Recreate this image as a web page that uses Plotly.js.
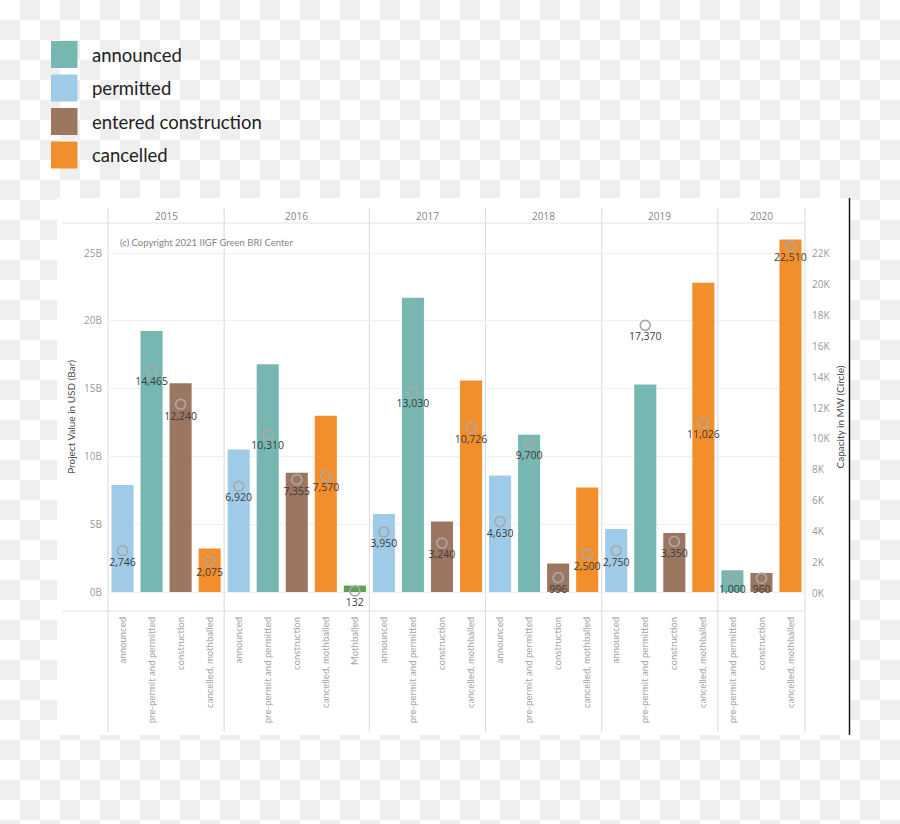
<!DOCTYPE html>
<html>
<head>
<meta charset="utf-8">
<script src="https://cdn.plot.ly/plotly-3.0.1.min.js"></script>
<style>
  html, body { margin: 0; padding: 0; }
  body {
    width: 900px; height: 824px; overflow: hidden;
    background: repeating-conic-gradient(#efefef 0 25%, #ffffff 0 50%) 0 0 / 40px 40px;
  }
  #chart { width: 900px; height: 824px; }
</style>
</head>
<body>
<div id="chart"></div>
<script>
// ---- data ----
const barYear = ['2015','2015','2015','2015',
                 '2016','2016','2016','2016','2016',
                 '2017','2017','2017','2017',
                 '2018','2018','2018','2018',
                 '2019','2019','2019','2019',
                 '2020','2020','2020'];
const barStage = ['announced','pre-permit and permitted','construction','cancelled, mothballed',
                  'announced','pre-permit and permitted','construction','cancelled, mothballed','Mothballed',
                  'announced','pre-permit and permitted','construction','cancelled, mothballed',
                  'announced','pre-permit and permitted','construction','cancelled, mothballed',
                  'announced','pre-permit and permitted','construction','cancelled, mothballed',
                  'pre-permit and permitted','construction','cancelled, mothballed'];
// Project value in USD billions (bars)
const valueB = [7.9, 19.25, 15.4, 3.2,
                10.5, 16.8, 8.8, 13.0, 0.47,
                5.75, 21.7, 5.2, 15.6,
                8.6, 11.6, 2.1, 7.7,
                4.65, 15.3, 4.35, 22.8,
                1.6, 1.4, 26.0];
// Capacity in MW (circles)
const capacityMW = [2746, 14465, 12240, 2075,
                    6920, 10310, 7355, 7570, 132,
                    3950, 13030, 3240, 10726,
                    4630, 9700, 996, 2500,
                    2750, 17370, 3350, 11026,
                    1000, 960, 22510];
const leftTickVals = [0, 5, 10, 15, 20, 25];
const leftTickText = ['0B', '5B', '10B', '15B', '20B', '25B'];
const rightTickVals = [0, 2000, 4000, 6000, 8000, 10000, 12000, 14000, 16000, 18000, 20000, 22000];
const rightTickText = ['0K', '2K', '4K', '6K', '8K', '10K', '12K', '14K', '16K', '18K', '20K', '22K'];
const legendLabels = ['announced', 'permitted', 'entered construction', 'cancelled'];

// ---- styles ----
const stageColor = {
  'announced': '#a0cbe8',
  'pre-permit and permitted': '#76b7b2',
  'construction': '#9c7660',
  'cancelled, mothballed': '#f28e2b',
  'Mothballed': '#59a14f'
};
const legendColors = ['#76b7b2', '#a0cbe8', '#9c7660', '#f28e2b'];
const FONT = 'Open Sans, Lato, sans-serif';
const LATO = 'Lato, sans-serif';

// ---- geometry helpers (plot area 108..805 x 223..611 px) ----
const L = 108, R = 805, T = 223, B = 611;
const px = X => (X - L) / (R - L);
const py = Y => (B - Y) / (B - T);

const N = valueB.length;
const xIdx = valueB.map((_, i) => i);
const xr = [-0.5, N - 0.5];
const dataToPaperX = v => (v - xr[0]) / (xr[1] - xr[0]);

// year groups
const years = [...new Set(barYear)];
const groups = years.map(y => {
  const idx = xIdx.filter(i => barYear[i] === y);
  return { year: y, first: idx[0], last: idx[idx.length - 1] };
});
const boundaries = [xr[0]].concat(groups.map(g => g.last + 0.5));

const bars = {
  type: 'bar',
  x: xIdx,
  y: valueB,
  marker: { color: barStage.map(s => stageColor[s]) },
  hoverinfo: 'skip'
};
const circles = {
  type: 'scatter',
  x: xIdx,
  y: capacityMW,
  yaxis: 'y2',
  mode: 'markers+text',
  marker: { symbol: 'circle-open', size: 10, color: '#a9a9a9', line: { width: 1.7 } },
  text: capacityMW.map(v => v.toLocaleString('en-US')),
  textposition: 'bottom center',
  textfont: { family: FONT, size: 10.5, color: '#3c3c3c' },
  cliponaxis: false,
  hoverinfo: 'skip'
};

const shapes = [];
// white panel
shapes.push({ type: 'rect', xref: 'paper', yref: 'paper', x0: px(57), x1: px(849), y0: py(735), y1: py(198),
  fillcolor: '#ffffff', line: { width: 0 }, layer: 'below' });
// black right border
shapes.push({ type: 'line', xref: 'paper', yref: 'paper', x0: px(849.5), x1: px(849.5), y0: py(735), y1: py(198),
  line: { color: '#1a1a1a', width: 1.5 }, layer: 'above' });
// header line and bottom axis line
shapes.push({ type: 'line', xref: 'paper', yref: 'paper', x0: px(62), x1: 1, y0: 1, y1: 1,
  line: { color: '#e4e4e4', width: 1 }, layer: 'below' });
shapes.push({ type: 'line', xref: 'paper', yref: 'paper', x0: px(62), x1: 1, y0: 0, y1: 0,
  line: { color: '#e4e4e4', width: 1 }, layer: 'below' });
// vertical separators
boundaries.forEach(b => {
  const xp = dataToPaperX(b);
  shapes.push({ type: 'line', xref: 'paper', yref: 'paper', x0: xp, x1: xp, y0: py(732), y1: py(208),
    line: { color: '#dadada', width: 1 }, layer: 'below' });
});
// legend squares
legendLabels.forEach((lab, i) => {
  const top = 41 + i * 33.5;
  shapes.push({ type: 'rect', xref: 'paper', yref: 'paper', x0: px(51), x1: px(77.5), y0: py(top + 27), y1: py(top),
    fillcolor: legendColors[i], line: { width: 0 } });
});

const annotations = [];
legendLabels.forEach((lab, i) => {
  const top = 41 + i * 33.5;
  annotations.push({ xref: 'paper', yref: 'paper', x: px(90), y: py(top + 13.5), xanchor: 'left', yanchor: 'middle',
    text: lab, showarrow: false, font: { family: LATO, size: 18.5, color: '#222' } });
});
groups.forEach(g => {
  annotations.push({ xref: 'x', yref: 'paper', x: (g.first + g.last) / 2, y: py(216), xanchor: 'center', yanchor: 'middle',
    text: g.year, showarrow: false, font: { family: FONT, size: 10, color: '#858585' } });
});
annotations.push({ xref: 'paper', yref: 'paper', x: px(118), y: py(242), xanchor: 'left', yanchor: 'middle',
  text: '(c) Copyright 2021 IIGF Green BRI Center', showarrow: false, font: { family: LATO, size: 9.5, color: '#858585' } });

const layout = {
  width: 900, height: 824,
  margin: { l: L, r: 900 - R, t: T, b: 824 - B, pad: 0 },
  paper_bgcolor: 'rgba(0,0,0,0)',
  plot_bgcolor: 'rgba(0,0,0,0)',
  showlegend: false,
  bargap: 0.24,
  font: { family: FONT },
  xaxis: {
    range: xr, tickvals: xIdx, ticktext: barStage, tickangle: -90,
    tickfont: { family: LATO, size: 9.6, color: '#a3a3a3' },
    showgrid: false, zeroline: false, showline: false, ticks: '', ticklabelstandoff: 3,
    fixedrange: true
  },
  yaxis: {
    range: [-(B - 592) / 13.56, (592 - T) / 13.56],
    tickvals: leftTickVals, ticktext: leftTickText,
    tickfont: { family: FONT, size: 10, color: '#9a9a9a' },
    showgrid: true, gridcolor: '#f0f0f0', gridwidth: 1, zeroline: false, showline: false, ticks: '',
    ticklabelstandoff: 5,
    title: { text: 'Project Value in USD (Bar)', font: { family: LATO, size: 10, color: '#4a4a4a' }, standoff: 6 },
    fixedrange: true
  },
  yaxis2: {
    overlaying: 'y', side: 'right',
    range: [-(B - 593) / 15.41 * 1000, (593 - T) / 15.41 * 1000],
    tickvals: rightTickVals, ticktext: rightTickText,
    tickfont: { family: FONT, size: 10, color: '#9a9a9a' },
    showgrid: false, zeroline: false, showline: false, ticks: '',
    ticklabelstandoff: 6,
    title: { text: 'Capacity in MW (Circle)', font: { family: LATO, size: 10, color: '#4a4a4a' }, standoff: 7 },
    fixedrange: true
  },
  shapes: shapes,
  annotations: annotations
};

Plotly.newPlot('chart', [bars, circles], layout, { displayModeBar: false, staticPlot: true });
</script>
</body>
</html>
